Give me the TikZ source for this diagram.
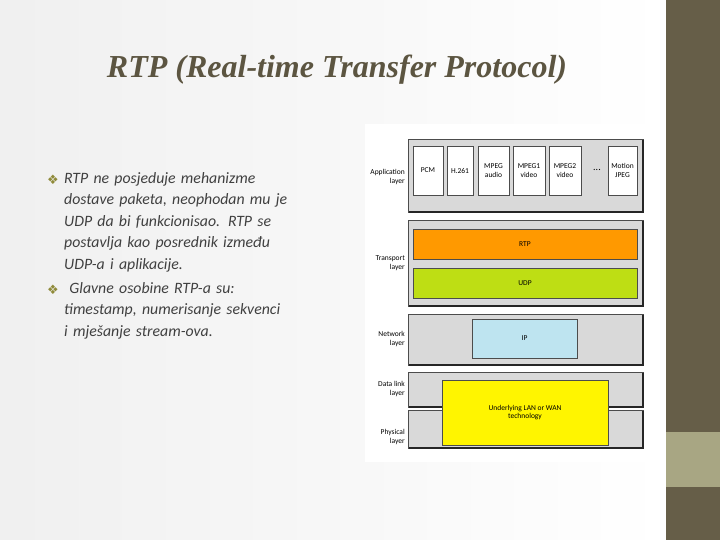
\documentclass[tikz,border=0pt]{standalone}
\usepackage{fontspec}
\setmainfont{Carlito}
\newfontfamily\titlefont{Liberation Serif}
\newfontfamily\symfont{DejaVu Sans}
\begin{document}
\begin{tikzpicture}[x=1pt,y=-1pt,
  layer/.style={draw=black!70,fill=black!15,line width=0.5pt},
  shadowline/.style={draw=black!85,line width=1.5pt},
  app/.style={draw=black!70,fill=white,line width=0.5pt,align=center,inner sep=0pt,font=\fontsize{7.5}{8.5}\selectfont},
  lab/.style={anchor=east,align=right,font=\fontsize{7.5}{8.5}\selectfont,inner sep=0pt},
  body/.style={anchor=north west,align=left,text width=280pt,font=\fontsize{15.8}{21.5}\itshape,text=black!75,inner sep=0pt},
  bul/.style={anchor=north west,inner sep=0pt,font=\symfont\fontsize{13}{13}\selectfont,text=olive!60!gray}]
\definecolor{olivedark}{HTML}{665E48}
\definecolor{olivelight}{HTML}{A8A683}
\useasboundingbox (0,0) rectangle (720,540);
\shade[left color=black!6,right color=white] (0,0) rectangle (666,540);
\fill[olivedark] (666,0) rectangle (720,540);
\fill[olivelight] (666,432) rectangle (720,487);
\node[font=\titlefont\bfseries\itshape\fontsize{32}{36}\selectfont,text=olivedark!90!black] (title) at (337,70) {RTP (Real-time Transfer Protocol)};
\node[bul] (b1) at (47,175) {❖};
\node[body] (t1) at (64,172) {RTP ne posjeduje mehanizme\\dostave paketa, neophodan mu je\\UDP da bi funkcionisao. RTP se\\postavlja kao posrednik između\\UDP-a i aplikacije.};
\node[bul] (b2) at (47,285) {❖};
\node[body] (t2) at (64,282) {~Glavne osobine RTP-a su:\\timestamp, numerisanje sekvenci\\i mješanje stream-ova.};
% diagram
\fill[white] (365,124) rectangle (648,462);
\path[layer] (408,139) rectangle (643,212);
\draw[shadowline] (409,212) -- (643,212) -- (643,140);
\path[layer] (408,220) rectangle (643,306);
\draw[shadowline] (409,306) -- (643,306) -- (643,221);
\path[layer] (408,314) rectangle (643,365);
\draw[shadowline] (409,365) -- (643,365) -- (643,315);
\path[layer] (408,372) rectangle (643,407);
\draw[shadowline] (409,407) -- (643,407) -- (643,373);
\path[layer] (408,410) rectangle (643,448);
\draw[shadowline] (409,448) -- (643,448) -- (643,411);
\node[app,minimum width=30pt,minimum height=49pt] (pcm) at (428,170.5) {PCM};
\node[app,minimum width=26pt,minimum height=49pt] (h261) at (460,170.5) {H.261};
\node[app,minimum width=31pt,minimum height=49pt] (mpa) at (493.5,170.5) {MPEG\\audio};
\node[app,minimum width=32pt,minimum height=49pt] (mp1) at (529,170.5) {MPEG1\\video};
\node[app,minimum width=32pt,minimum height=49pt] (mp2) at (565,170.5) {MPEG2\\video};
\node[font=\fontsize{10}{10}\selectfont,inner sep=0pt] (dots) at (597,170) {...};
\node[app,minimum width=29pt,minimum height=49pt] (mj) at (622.5,170.5) {Motion\\JPEG};
\node[app,fill={rgb,255:red,255;green,153;blue,0},minimum width=224pt,minimum height=30pt] (rtp) at (525,244) {RTP};
\node[app,fill={rgb,255:red,190;green,222;blue,20},minimum width=224pt,minimum height=30pt] (udp) at (525,283) {UDP};
\node[app,fill={rgb,255:red,190;green,228;blue,240},minimum width=105pt,minimum height=39pt] (ip) at (524.5,338.5) {IP};
\node[app,fill={rgb,255:red,255;green,245;blue,0},minimum width=166pt,minimum height=65pt] (lan) at (525,412.5) {Underlying LAN or WAN\\technology};
\node[lab] (la) at (405,177) {Application\\layer};
\node[lab] (lt) at (405,263) {Transport\\layer};
\node[lab] (ln) at (405,339) {Network\\layer};
\node[lab] (ld) at (405,389) {Data link\\layer};
\node[lab] (lp) at (405,437) {Physical\\layer};
\end{tikzpicture}
\end{document}
